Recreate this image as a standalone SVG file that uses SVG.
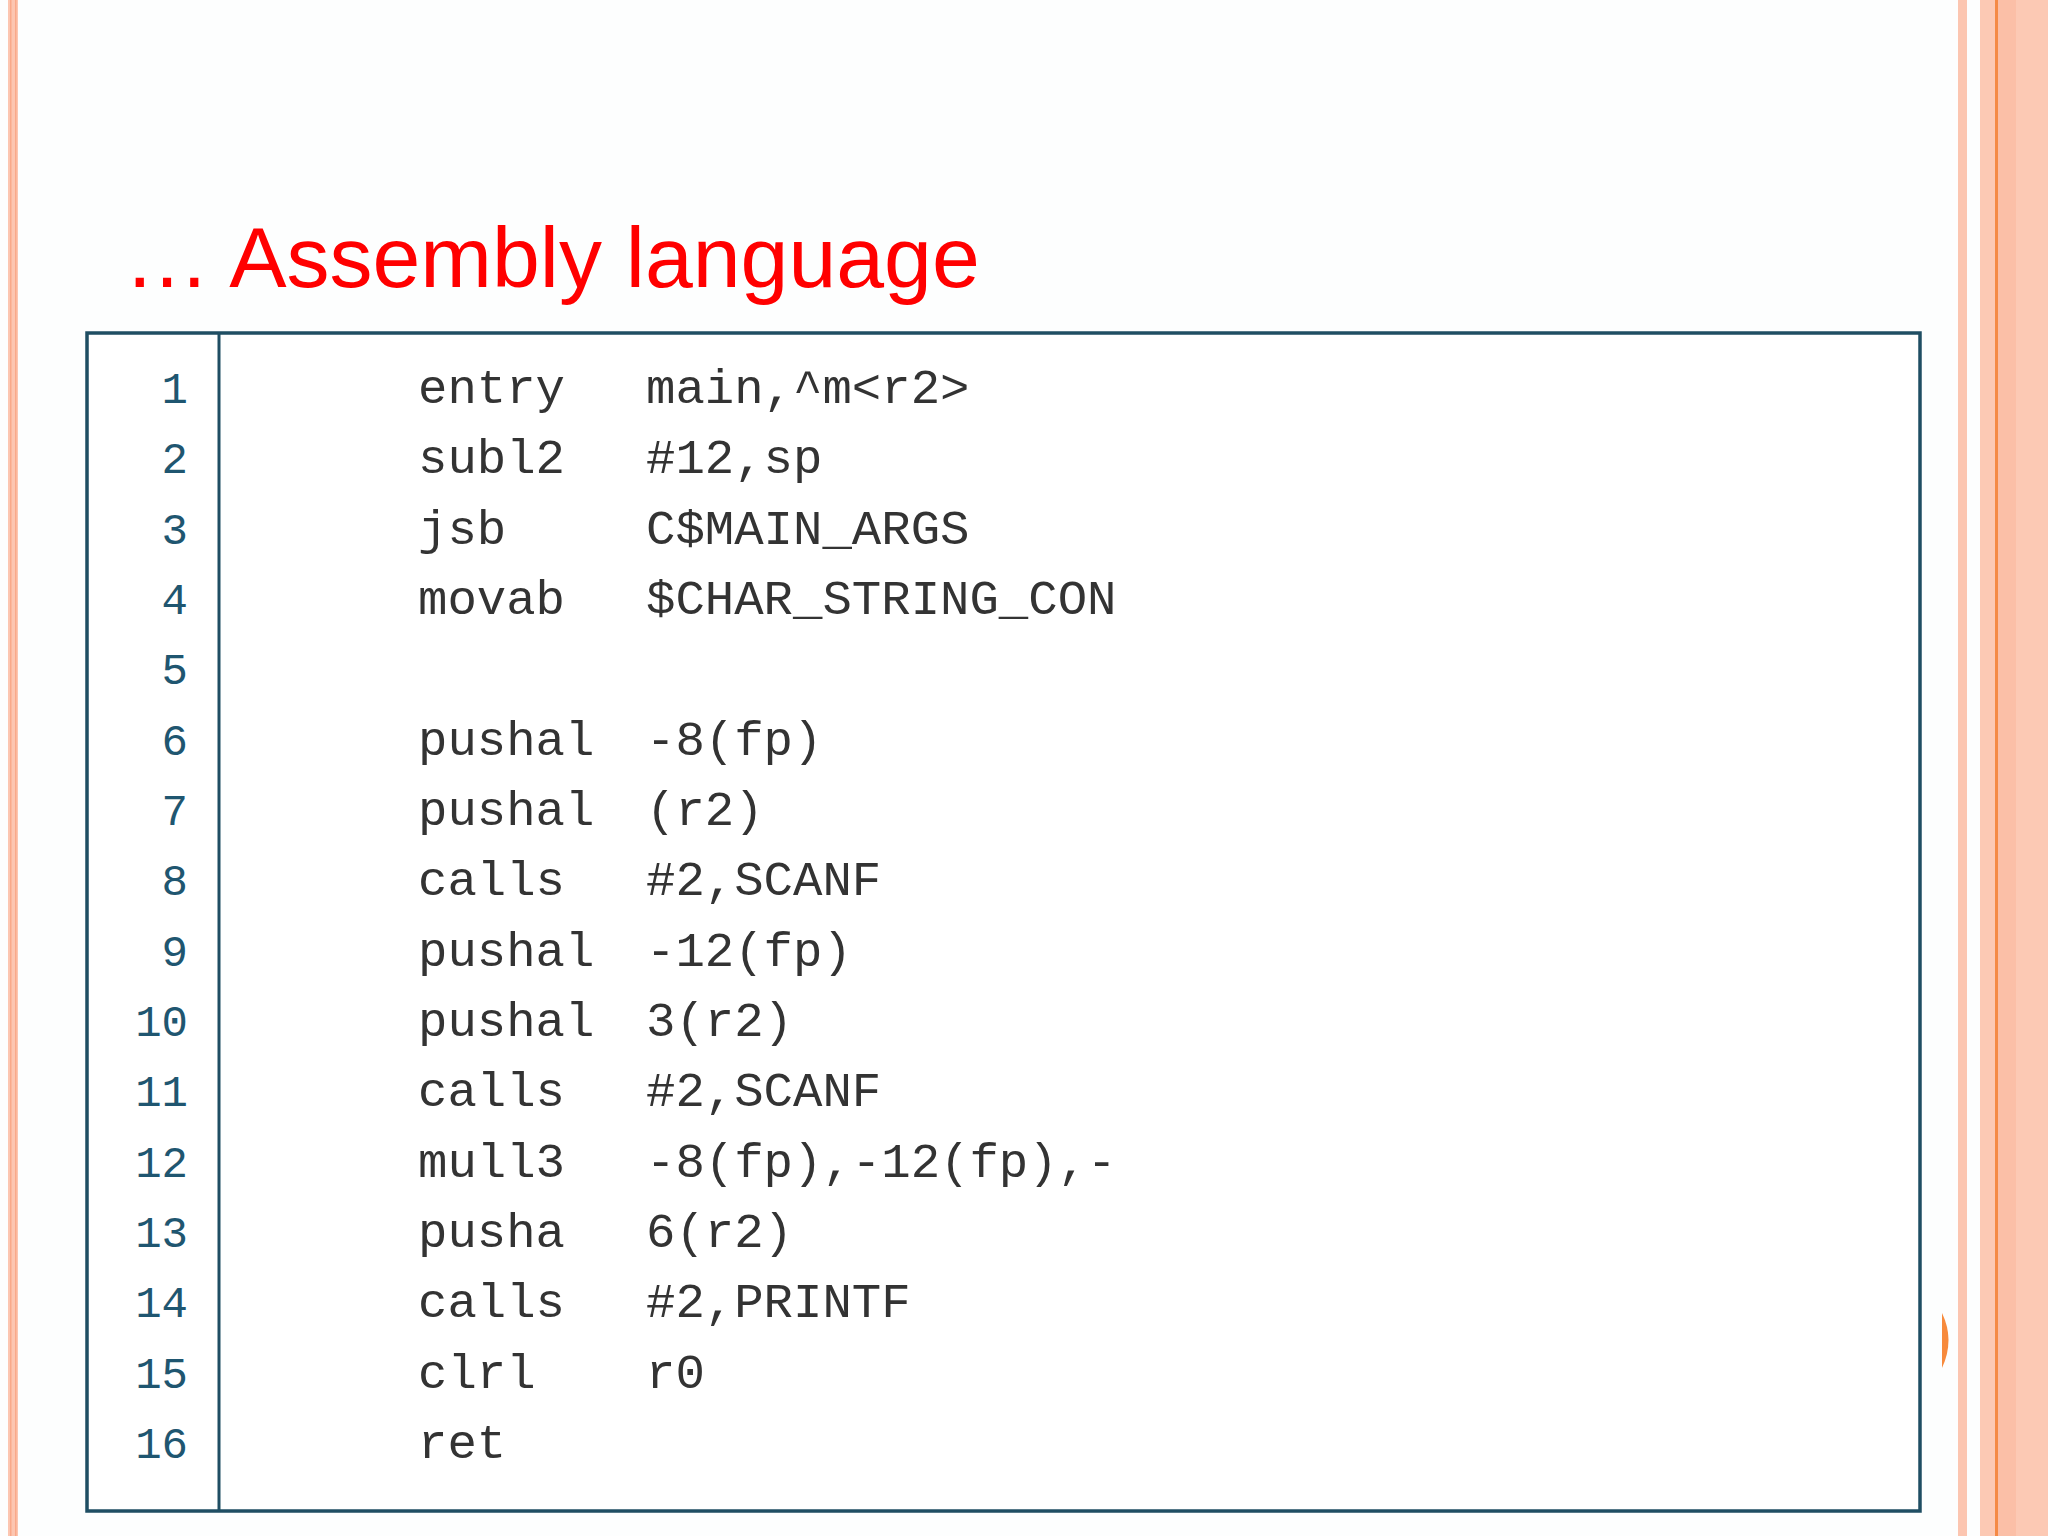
<svg xmlns="http://www.w3.org/2000/svg" width="2048" height="1536" viewBox="0 0 2048 1536">
<style>
.n{font-family:"Liberation Mono",monospace;font-size:44px;fill:#1f5670;text-anchor:end}
.c{font-family:"Liberation Mono",monospace;font-size:49px;fill:#333}
</style>
<rect width="2048" height="1536" fill="#fdfefe"/>
<rect x="8" y="0" width="10" height="1536" fill="#fcc6b1"/>
<rect x="10" y="0" width="1.5" height="1536" fill="#f9a98a"/>
<rect x="15" y="0" width="1.5" height="1536" fill="#f9a98a"/>
<rect x="1958" y="0" width="9" height="1536" fill="#fcc6b1"/>
<rect x="1980" y="0" width="68" height="1536" fill="#fcc9b4"/>
<rect x="1998" y="0" width="18" height="1536" fill="#fbbfa7"/>
<rect x="1995" y="0" width="3" height="1536" fill="#f58a45"/>
<path d="M1942,1313 Q1955,1340 1942,1368 Z" fill="#f78a3c"/>
<text x="124" y="287" font-family="Liberation Sans, Arial, sans-serif" font-size="86" fill="#ff0000">… Assembly language</text>
<g id="listing">
<rect x="87" y="333" width="1833" height="1178" fill="#fff" stroke="#1f4e63" stroke-width="3.5"/>
<line x1="219" y1="333" x2="219" y2="1511" stroke="#1f4e63" stroke-width="3"/>
<g id="numbers">
<text class="n" x="188" y="403">1</text><text class="n" x="188" y="473">2</text><text class="n" x="188" y="544">3</text><text class="n" x="188" y="614">4</text><text class="n" x="188" y="684">5</text><text class="n" x="188" y="755">6</text><text class="n" x="188" y="825">7</text><text class="n" x="188" y="895">8</text><text class="n" x="188" y="966">9</text><text class="n" x="188" y="1036">10</text><text class="n" x="188" y="1106">11</text><text class="n" x="188" y="1177">12</text><text class="n" x="188" y="1247">13</text><text class="n" x="188" y="1317">14</text><text class="n" x="188" y="1388">15</text><text class="n" x="188" y="1458">16</text>
</g>
<g id="code">
<text class="c" x="418" y="403">entry</text><text class="c" x="646" y="403">main,^m&lt;r2&gt;</text>
<text class="c" x="418" y="473">subl2</text><text class="c" x="646" y="473">#12,sp</text>
<text class="c" x="418" y="544">jsb</text><text class="c" x="646" y="544">C$MAIN_ARGS</text>
<text class="c" x="418" y="614">movab</text><text class="c" x="646" y="614">$CHAR_STRING_CON</text>
<text class="c" x="418" y="755">pushal</text><text class="c" x="646" y="755">-8(fp)</text>
<text class="c" x="418" y="825">pushal</text><text class="c" x="646" y="825">(r2)</text>
<text class="c" x="418" y="895">calls</text><text class="c" x="646" y="895">#2,SCANF</text>
<text class="c" x="418" y="966">pushal</text><text class="c" x="646" y="966">-12(fp)</text>
<text class="c" x="418" y="1036">pushal</text><text class="c" x="646" y="1036">3(r2)</text>
<text class="c" x="418" y="1106">calls</text><text class="c" x="646" y="1106">#2,SCANF</text>
<text class="c" x="418" y="1177">mull3</text><text class="c" x="646" y="1177">-8(fp),-12(fp),-</text>
<text class="c" x="418" y="1247">pusha</text><text class="c" x="646" y="1247">6(r2)</text>
<text class="c" x="418" y="1317">calls</text><text class="c" x="646" y="1317">#2,PRINTF</text>
<text class="c" x="418" y="1388">clrl</text><text class="c" x="646" y="1388">r0</text>
<text class="c" x="418" y="1458">ret</text>
</g>
</g>
</svg>
